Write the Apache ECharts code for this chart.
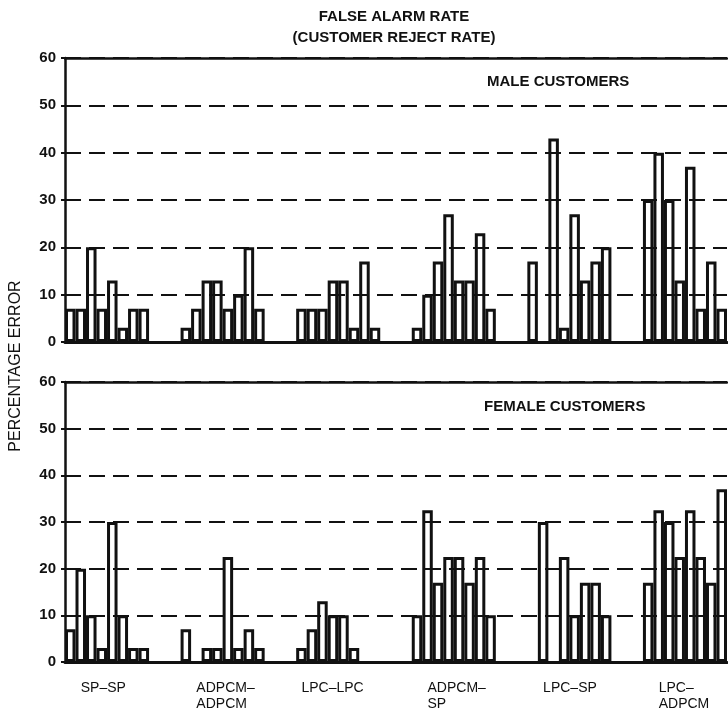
<!DOCTYPE html>
<html>
<head>
<meta charset="utf-8">
<script src="https://cdn.jsdelivr.net/npm/echarts@6/dist/echarts.min.js"></script>
<style>
html, body { margin: 0; background: #fff; }
#chart { width: 728px; height: 709px; }
</style>
</head>
<body>
<div id="chart"></div>
<script>
// group names (tick labels under the bottom panel)
var groupNames = ['SP–SP', 'ADPCM–\nADPCM', 'LPC–LPC', 'ADPCM–\nSP', 'LPC–SP', 'LPC–\nADPCM'];

// male customers, percent error per speaker (null = no bar)
var maleSPSP       = [7, 7, 20, 7, 13, 3, 7, 7];
var maleADPCMADPCM = [3, 7, 13, 13, 7, 10, 20, 7];
var maleLPCLPC     = [7, 7, 7, 13, 13, 3, 17, 3];
var maleADPCMSP    = [3, 10, 17, 27, 13, 13, 23, 7];
var maleLPCSP      = [17, null, 43, 3, 27, 13, 17, 20];
var maleLPCADPCM   = [30, 40, 30, 13, 37, 7, 17, 7];

// female customers
var femaleSPSP       = [7, 20, 10, 3, 30, 10, 3, 3];
var femaleADPCMADPCM = [7, null, 3, 3, 22.5, 3, 7, 3];
var femaleLPCLPC     = [3, 7, 13, 10, 10, 3, null, null];
var femaleADPCMSP    = [10, 32.5, 17, 22.5, 22.5, 17, 22.5, 10];
var femaleLPCSP      = [null, 30, null, 22.5, 10, 17, 17, 10];
var femaleLPCADPCM   = [17, 32.5, 30, 22.5, 32.5, 22.5, 17, 37];

var yMin = 0, yMax = 60, yStep = 10;

// ---- layout helpers ----
var GAP = 3;               // empty slots between groups
var labelSlot = [1, 1, 0, 1, 1, 1];
var font = 'Liberation Sans';
var ink = '#111';

function build(groups) {
    var out = [];
    groups.forEach(function (g, i) {
        if (i > 0) for (var k = 0; k < GAP; k++) out.push('-');
        g.forEach(function (v) { out.push(v == null ? '-' : v); });
    });
    return out;
}

var maleData = build([maleSPSP, maleADPCMADPCM, maleLPCLPC, maleADPCMSP, maleLPCSP, maleLPCADPCM]);
var femaleData = build([femaleSPSP, femaleADPCMADPCM, femaleLPCLPC, femaleADPCMSP, femaleLPCSP, femaleLPCADPCM]);

var cats = [];
for (var i = 0; i < maleData.length; i++) cats.push(String(i));

var labelAt = {};
var groupLen = maleSPSP.length + GAP;
groupNames.forEach(function (n, i) { labelAt[i * groupLen + labelSlot[i]] = n; });

function xBottom(gi, withLabels) {
    return {
        gridIndex: gi, type: 'category', data: cats,
        axisLine: { lineStyle: { color: ink, width: 3 } },
        axisTick: { show: false },
        axisLabel: {
            show: withLabels, interval: 0, align: 'left', margin: 18,
            fontFamily: font, fontSize: 14, lineHeight: 16, color: ink,
            formatter: function (v, idx) { return labelAt[idx] || ''; }
        },
        splitLine: { show: false }
    };
}
function xTop(gi) {
    return {
        gridIndex: gi, type: 'category', data: cats, position: 'top',
        axisLine: { lineStyle: { color: ink, width: 2.5 } },
        axisTick: { show: false }, axisLabel: { show: false }
    };
}
function yAx(gi) {
    return {
        gridIndex: gi, type: 'value', min: yMin, max: yMax, interval: yStep,
        axisLine: { show: true, lineStyle: { color: ink, width: 2.5 } },
        axisTick: { show: true, length: 4, lineStyle: { color: ink, width: 2 } },
        axisLabel: { fontFamily: font, fontSize: 15, fontWeight: 'bold', color: ink, margin: 9 },
        splitLine: { lineStyle: { color: ink, width: 2, type: [16, 8] } }
    };
}
function barSeries(xi, yi, data) {
    return {
        type: 'bar', xAxisIndex: xi, yAxisIndex: yi, data: data,
        barCategoryGap: '0%', silent: true,
        itemStyle: { color: 'rgba(0,0,0,0)', borderColor: ink, borderWidth: 3 }
    };
}

var option = {
    animation: false,
    backgroundColor: '#fff',
    grid: [
        { left: 65, right: 1, top: 58, height: 284, outerBoundsMode: 'none' },
        { left: 65, right: 1, top: 382, height: 280, outerBoundsMode: 'none' }
    ],
    xAxis: [xBottom(0, false), xTop(0), xBottom(1, true), xTop(1)],
    yAxis: [yAx(0), yAx(1)],
    series: [barSeries(0, 0, maleData), barSeries(2, 1, femaleData)],
    graphic: [
        { type: 'text', x: 394, y: 17, style: { text: 'FALSE ALARM RATE', fontFamily: font, fontSize: 15, fontWeight: 'bold', fill: ink, align: 'center', verticalAlign: 'middle' } },
        { type: 'text', x: 394, y: 38, style: { text: '(CUSTOMER REJECT RATE)', fontFamily: font, fontSize: 15, fontWeight: 'bold', fill: ink, align: 'center', verticalAlign: 'middle' } },
        { type: 'text', x: 487, y: 82, style: { text: 'MALE CUSTOMERS', fontFamily: font, fontSize: 15, fontWeight: 'bold', fill: ink, align: 'left', verticalAlign: 'middle' } },
        { type: 'text', x: 484, y: 407, style: { text: 'FEMALE CUSTOMERS', fontFamily: font, fontSize: 15, fontWeight: 'bold', fill: ink, align: 'left', verticalAlign: 'middle' } },
        { type: 'text', x: 16, y: 366, rotation: Math.PI / 2, style: { text: 'PERCENTAGE ERROR', fontFamily: font, fontSize: 16, fill: ink, align: 'center', verticalAlign: 'middle' } }
    ]
};

var myChart = echarts.init(document.getElementById('chart'));
myChart.setOption(option);
</script>
</body>
</html>
